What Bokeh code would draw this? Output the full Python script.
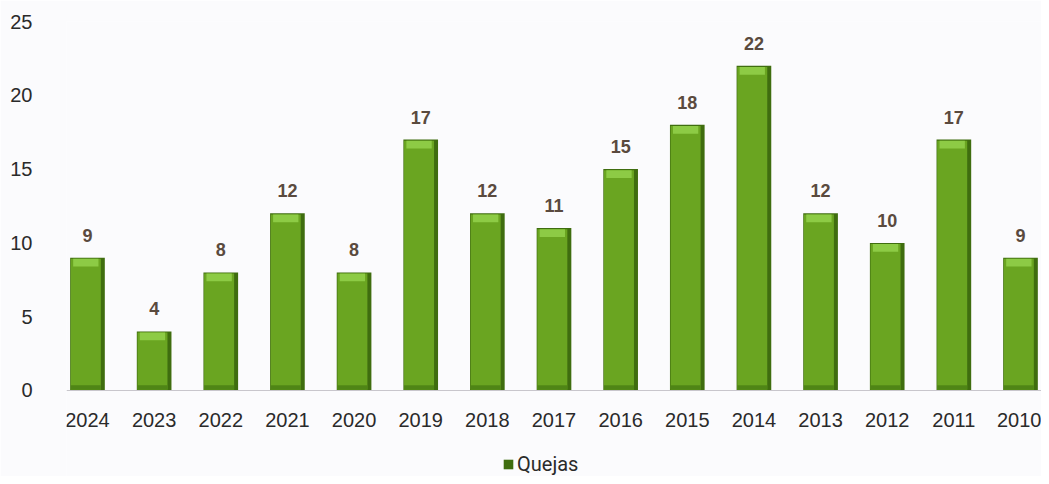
from bokeh.plotting import figure
from bokeh.models import ColumnDataSource, Legend, LegendItem, Range1d
from bokeh.transform import dodge
from bokeh.core.properties import value
from bokeh.embed import file_html
from bokeh.resources import INLINE

years = ["2024", "2023", "2022", "2021", "2020", "2019", "2018", "2017",
         "2016", "2015", "2014", "2013", "2012", "2011", "2010"]
quejas = [9, 4, 8, 12, 8, 17, 12, 11, 15, 18, 22, 12, 10, 17, 9]
series_name = "Quejas"
y_ticks = [0, 5, 10, 15, 20, 25]

src = ColumnDataSource(dict(
    x=years,
    top=quejas,
    inner_top=[v - 0.08 for v in quejas],
    bevel_bottom=[v - 0.6 for v in quejas],
    label=[str(v) for v in quejas],
))

bg = "#fbfbfd"
p = figure(x_range=years, y_range=Range1d(-5.83, 25), width=1041, height=476,
           output_backend="svg", toolbar_location=None,
           background_fill_color=bg, border_fill_color=bg,
           min_border_left=66, min_border_right=0, min_border_top=21,
           min_border_bottom=0, outline_line_color=None)
p.x_range.range_padding = -0.185
p.x_range.range_padding_units = "absolute"

# bar body (dark edges)
outer = p.vbar(x="x", top="top", bottom=0, width=0.52, source=src,
               fill_color="#3f6d0f", line_color=None)
# inner face
p.vbar(x=dodge("x", -0.025, range=p.x_range), top="inner_top", bottom=0.05,
       width=0.45, source=src, fill_color="#6aa521", line_color=None)
# darker bottom strip
p.vbar(x=dodge("x", -0.025, range=p.x_range), top=0.35, bottom=0.05,
       width=0.45, source=src, fill_color="#4f8516", line_color=None)
# lighter top bevel
p.vbar(x=dodge("x", -0.025, range=p.x_range), top="inner_top",
       bottom="bevel_bottom", width=0.38, source=src,
       fill_color="#8dcb45", line_color=None)

p.text(x="x", y="top", text="label", source=src, y_offset=-16,
       text_align="center", text_baseline="bottom",
       text_font=value("Liberation Sans"), text_font_style="bold",
       text_font_size="18px", text_color="#5a4a3e")

p.xgrid.grid_line_color = None
p.ygrid.grid_line_color = None

p.yaxis.ticker = y_ticks
p.yaxis.axis_line_color = None
p.yaxis.major_tick_line_color = None
p.yaxis.minor_tick_line_color = None
p.yaxis.major_tick_out = 0
p.yaxis.major_tick_in = 0
p.yaxis.major_label_standoff = 34
p.yaxis.major_label_text_font = "Liberation Sans"
p.yaxis.major_label_text_font_size = "20px"
p.yaxis.major_label_text_color = "#2a2a2a"

p.xaxis.fixed_location = 0
p.xaxis.axis_line_color = "#c8c6cc"
p.xaxis.major_tick_line_color = None
p.xaxis.minor_tick_line_color = None
p.xaxis.major_tick_out = 0
p.xaxis.major_tick_in = 0
p.xaxis.major_label_standoff = 23
p.xaxis.major_label_text_font = "Liberation Sans"
p.xaxis.major_label_text_font_size = "20px"
p.xaxis.major_label_text_color = "#2a2a2a"

legend = Legend(items=[LegendItem(label=series_name, renderers=[outer])],
                location=(436, 0), orientation="horizontal",
                border_line_color=None, background_fill_alpha=0,
                label_text_font="Roboto", label_text_font_size="20px",
                label_text_color="#2a2a2a", glyph_width=12, glyph_height=12,
                label_standoff=3, padding=0, margin=0, label_height=20)
p.add_layout(legend, "center")

open("out.html", "w").write(file_html(p, INLINE))
